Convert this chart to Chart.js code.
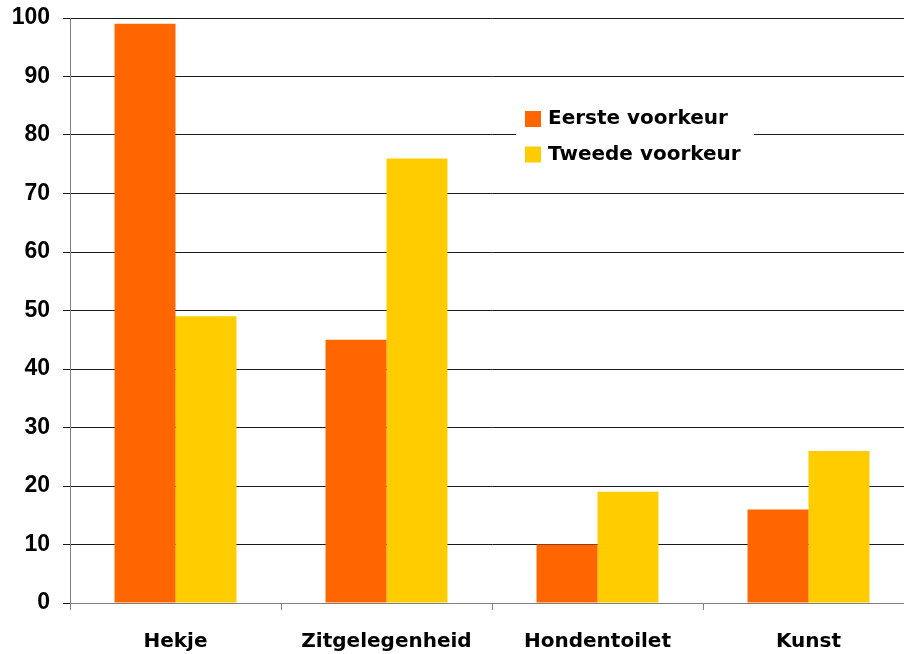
<!DOCTYPE html>
<html>
<head>
<meta charset="utf-8">
<script src="https://cdn.jsdelivr.net/npm/chart.js@4/dist/chart.umd.min.js"></script>
<style>
  html, body { margin: 0; padding: 0; background: #fff; overflow: hidden; }
  #wrap { width: 914px; height: 654px; position: relative; }
</style>
</head>
<body>
<div id="wrap"><canvas id="c" width="914" height="654"></canvas></div>
<script>
const categories = ['Hekje', 'Zitgelegenheid', 'Hondentoilet', 'Kunst'];
const seriesNames = ['Eerste voorkeur', 'Tweede voorkeur'];
const eersteVoorkeur = [99, 45, 10, 16];
const tweedeVoorkeur = [49, 76, 19, 26];
const yTicks = [0, 10, 20, 30, 40, 50, 60, 70, 80, 90, 100];
const colors = ['#FF6600', '#FFCC00'];

const boxLegend = {
  id: 'boxLegend',
  afterDatasetsDraw(chart) {
    const ctx = chart.ctx;
    ctx.save();
    ctx.fillStyle = '#ffffff';
    ctx.fillRect(516, 98, 238, 74);
    ctx.font = 'bold 20px "DejaVu Sans"';
    ctx.textBaseline = 'middle';
    ctx.textAlign = 'left';
    chart.data.datasets.forEach((ds, i) => {
      const y = 111 + i * 35.5;
      ctx.fillStyle = ds.backgroundColor;
      ctx.fillRect(525, y, 16, 16);
      ctx.fillStyle = '#000';
      ctx.fillText(ds.label, 548, y + 8);
    });
    ctx.restore();
  }
};

new Chart(document.getElementById('c'), {
  type: 'bar',
  data: {
    labels: categories,
    datasets: [
      { label: seriesNames[0], data: eersteVoorkeur, backgroundColor: colors[0], borderWidth: 0 },
      { label: seriesNames[1], data: tweedeVoorkeur, backgroundColor: colors[1], borderWidth: 0 }
    ]
  },
  options: {
    responsive: false,
    animation: false,
    devicePixelRatio: 1,
    layout: { padding: { top: 18, right: 0, bottom: 0, left: 0 } },
    datasets: { bar: { categoryPercentage: 0.578, barPercentage: 1.0 } },
    plugins: { legend: { display: false }, tooltip: { enabled: false } },
    scales: {
      x: {
        offset: true,
        grid: { display: true, drawOnChartArea: false, drawTicks: true, tickLength: 7, color: '#808080', offset: true },
        border: { display: true, color: '#808080', width: 1 },
        ticks: { color: '#000', font: { family: '"DejaVu Sans"', size: 20, weight: 'bold' }, padding: 20, maxRotation: 0 },
        afterFit(scale) { scale.height = 51; scale.paddingLeft = 0; scale.paddingRight = 0; }
      },
      y: {
        min: 0, max: 100,
        afterBuildTicks(scale) { scale.ticks = yTicks.map(v => ({ value: v })); },
        grid: { color: '#1a1a1a', lineWidth: 1, drawTicks: true, tickLength: 7 },
        border: { display: true, color: '#808080', width: 1 },
        ticks: { color: '#000', font: { family: '"Liberation Sans", Arial', size: 23, weight: 'bold' }, padding: 13 },
        afterFit(scale) { scale.width = 70; scale.paddingTop = 0; scale.paddingBottom = 0; }
      }
    }
  },
  plugins: [boxLegend]
});
</script>
</body>
</html>
